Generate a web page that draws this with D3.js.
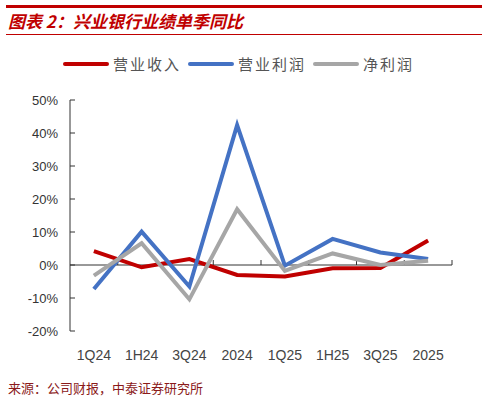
<!DOCTYPE html><html><head><meta charset="utf-8"><script src="https://cdn.jsdelivr.net/npm/d3@7"></script>
<style>body{margin:0;background:#fff}</style></head><body><svg id="c" width="488" height="403"></svg><script>
const categories=["1Q24","1H24","3Q24","2024","1Q25","1H25","3Q25","2025"];
const revenue=[4.2,-0.7,1.8,-3.0,-3.5,-1.0,-0.9,7.4];
const opProfit=[-7.3,10.1,-6.5,42.4,-0.2,7.9,3.8,1.8];
const netProfit=[-3.2,6.6,-10.4,16.9,-1.8,3.5,0,1.3];
const yTicks=[-20,-10,0,10,20,30,40,50];
const seriesNames=["营业收入","营业利润","净利润"];
const colors=["#c00000","#4472c4","#a6a6a6"];
const svg=d3.select("#c");
const font="'Noto Sans CJK SC',sans-serif";
svg.append("rect").attr("x",6).attr("y",5).attr("width",476).attr("height",3).attr("fill","#c00000");
svg.append("text").attr("x",8).attr("y",28).text("图表 2：兴业银行业绩单季同比").attr("fill","#c00000").attr("font-size",17).attr("font-weight","bold").attr("font-style","italic").attr("font-family",font);
svg.append("rect").attr("x",6).attr("y",34).attr("width",476).attr("height",1).attr("fill","#c00000");
const x=d3.scaleBand().domain(categories).range([70,452]);
const y=d3.scaleLinear().domain([-20,50]).range([331,100]);
const g=svg.append("g");
g.append("line").attr("x1",70).attr("x2",70).attr("y1",y(50)).attr("y2",y(-20)).attr("stroke","#333");
yTicks.forEach(t=>{g.append("line").attr("x1",70).attr("x2",75).attr("y1",y(t)).attr("y2",y(t)).attr("stroke","#333");
g.append("text").attr("x",58).attr("y",y(t)+5).attr("text-anchor","end").attr("font-size",13).attr("fill","#333").attr("font-family","Arial,'Liberation Sans'").text(t+"%");});
g.append("line").attr("x1",70).attr("x2",452).attr("y1",y(0)).attr("y2",y(0)).attr("stroke","#333");
categories.forEach((c,i)=>{const xe=x(c)+x.bandwidth();g.append("line").attr("x1",xe).attr("x2",xe).attr("y1",y(0)).attr("y2",y(0)-5).attr("stroke","#333");
g.append("text").attr("x",x(c)+x.bandwidth()/2).attr("y",360).attr("text-anchor","middle").attr("font-size",14).attr("fill","#444").attr("font-family","Arial,'Liberation Sans'").text(c);});
const line=d3.line().x((d,i)=>x(categories[i])+x.bandwidth()/2).y(d=>y(d));
[revenue,opProfit,netProfit].forEach((s,k)=>g.append("path").attr("d",line(s)).attr("fill","none").attr("stroke",colors[k]).attr("stroke-width",4));
const lx=[65,190,315];
seriesNames.forEach((n,k)=>{svg.append("line").attr("x1",lx[k]).attr("x2",lx[k]+42).attr("y1",64).attr("y2",64).attr("stroke",colors[k]).attr("stroke-width",4).attr("stroke-linecap","round");
svg.append("text").attr("x",lx[k]+48).attr("y",70).attr("font-size",15).attr("letter-spacing",2).attr("fill","#555").attr("font-family",font).text(n);});
svg.append("text").attr("x",8).attr("y",393).attr("font-size",13).attr("fill","#8b1a1a").attr("font-family",font).text("来源：公司财报，中泰证券研究所");
</script></body></html>
